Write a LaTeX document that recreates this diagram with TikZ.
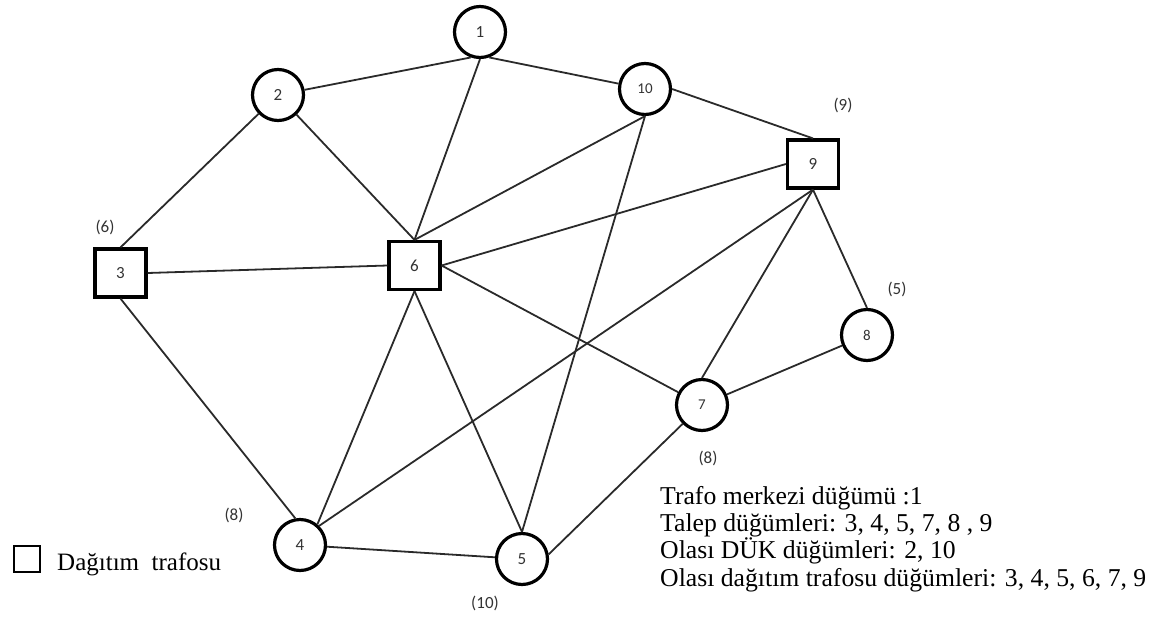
\documentclass[tikz,border=0pt]{standalone}
\usepackage{fontspec}
\setmainfont{Liberation Serif}
\newfontfamily\lblfont{Carlito}
\definecolor{edgec}{HTML}{2A2A2A}
\definecolor{lblc}{HTML}{333333}
\tikzset{
  vtx/.style={circle, draw=black, line width=3.2pt, minimum size=51pt, inner sep=0pt,
    font=\lblfont\fontsize{17}{20}\selectfont, text=lblc},
  vtxs/.style={vtx, font=\lblfont\fontsize{15}{18}\selectfont},
  trf/.style={rectangle, draw=black, line width=3.2pt, minimum width=51pt, minimum height=48pt,
    inner sep=0pt, font=\lblfont\fontsize{17}{20}\selectfont, text=lblc},
  wt/.style={font=\lblfont\fontsize{17}{20}\selectfont, text=lblc, inner sep=0pt},
  edge/.style={draw=edgec, line width=1.8pt},
  info/.style={font=\fontsize{25.7}{30}\selectfont, anchor=base west, inner sep=0pt},
}
\begin{document}
\begin{tikzpicture}[x=1pt, y=-1pt]
\useasboundingbox (0,0) rectangle (1152,619);
% nodes
\node[vtx]  (n1)  at (480,32)    {1};
\node[vtx]  (n2)  at (278,95)    {2};
\node[vtxs] (n10) at (645,89)    {10};
\node[trf]  (n9)  at (813,164)   {9};
\node[trf]  (n3)  at (120.5,273) {3};
\node[trf]  (n6)  at (414.5,265.5) {6};
\node[vtxs] (n8)  at (867,335)   {8};
\node[vtxs] (n7)  at (702,405)   {7};
\node[vtx]  (n4)  at (300,545)   {4};
\node[vtx]  (n5)  at (522,559)   {5};
% weights
\node[wt] (w3) at (105,227) {(6)};
\node[wt] (w9) at (843,105) {(9)};
\node[wt] (w8) at (897,289) {(5)};
\node[wt] (w7) at (708,458) {(8)};
\node[wt] (w4) at (234,515) {(8)};
\node[wt] (w5) at (485,603) {(10)};
% edges
\draw[edge] (n1.250) -- (n2);
\draw[edge] (n1.290) -- (n10);
\draw[edge] (n1.south) -- (n6.north);
\draw[edge] (n2) -- (n3.north);
\draw[edge] (n2) -- (n6.north);
\draw[edge] (n10.south) -- (n6.north);
\draw[edge] (n10.south) -- (n5.north);
\draw[edge] (n10.east) -- (n9.north);
\draw[edge] (n3.east) -- (n6.west);
\draw[edge] (n3.south) -- (n4.100);
\draw[edge] (n6.south) -- (n4.50);
\draw[edge] (n6.south) -- (n5.north);
\draw[edge] (n6.east) -- (n9.west);
\draw[edge] (n6.east) -- (n7);
\draw[edge] (n9.south) -- (n4.45);
\draw[edge] (n9.south) -- (n7.north);
\draw[edge] (n9.south) -- (n8.north);
\draw[edge] (n7) -- (n8);
\draw[edge] (n7) -- (n5.10);
\draw[edge] (n4) -- (n5);
% info text
\node[info] (t1) at (660,504)   {Trafo merkezi düğümü :1};
\node[info] (t2) at (660,531.3) {Talep düğümleri: 3, 4, 5, 7, 8 , 9};
\node[info] (t3) at (660,558.6) {Olası DÜK düğümleri: 2, 10};
\node[info] (t4) at (660,586)   {Olası dağıtım trafosu düğümleri: 3, 4, 5, 6, 7, 9};
% legend
\node[draw=black, line width=2.6pt, minimum size=26pt, inner sep=0pt] (lgsq) at (27,559) {};
\node[info, font=\fontsize{25}{30}\selectfont] (lgtx) at (57,570) {Dağıtım\ \ trafosu};
\end{tikzpicture}
\end{document}
